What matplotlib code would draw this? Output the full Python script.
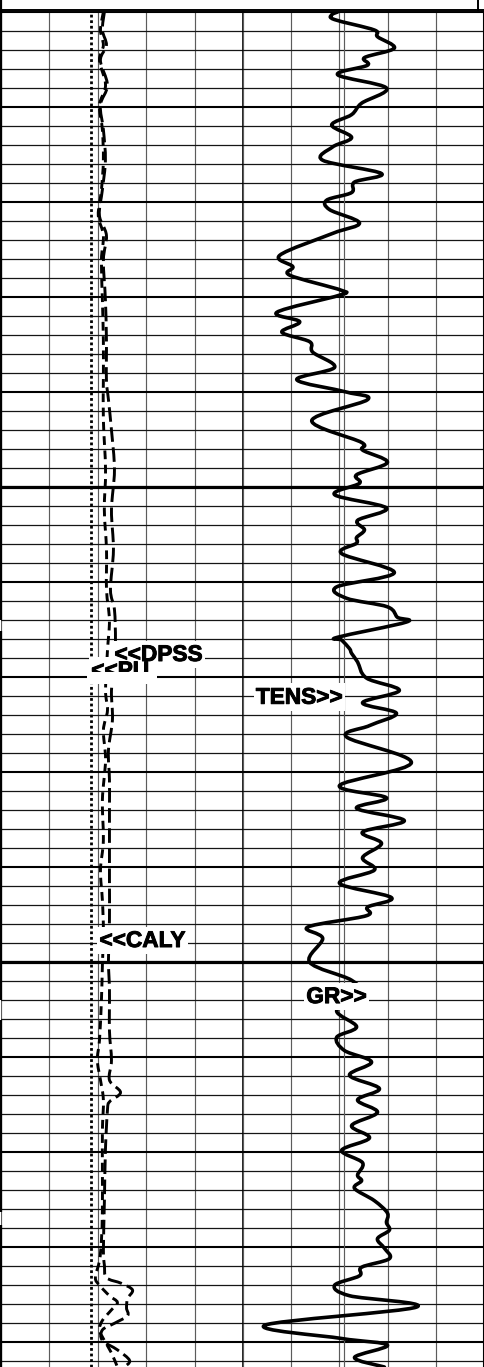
import numpy as np
import matplotlib
matplotlib.use("Agg")
import matplotlib.pyplot as plt
import matplotlib.patheffects as pe
from matplotlib.path import Path
from matplotlib.patches import PathPatch, Rectangle
from matplotlib.lines import Line2D
from matplotlib.ticker import MultipleLocator

plt.rcParams['font.family'] = ['Liberation Sans', 'DejaVu Sans']

# ---------------------------------------------------------------- scales
DEPTH_TOP = 3700.0          # ft
DEPTH_BOTTOM = 3842.6       # ft
CAL_MIN, CAL_MAX = 6.0, 16.0        # caliper, in
POR_LEFT, POR_RIGHT = 0.45, -0.15   # density porosity (sandstone), v/v
GR_MIN, GR_MAX = 0.0, 150.0         # gamma ray, API
BIT_SIZE = 9.73                      # in
GR_REFERENCE = 62.6                  # API

# ---------------------------------------------------------------- track 1
caly_depth = [3700.0, 3701.9, 3703.5, 3705.1, 3707.7, 3709.8, 3712.4, 3715.6,
              3718.7, 3721.4, 3723.5, 3726.1, 3730.3, 3734.5, 3738.7, 3742.9,
              3748.2, 3752.4, 3756.6, 3760.8, 3764.0, 3767.2, 3771.4, 3773.5,
              3775.6, 3778.7, 3782.9, 3787.2, 3790.3, 3793.5, 3796.6, 3800.3,
              3804.0, 3808.2, 3810.3, 3812.4, 3814.5, 3817.7, 3821.9, 3826.1,
              3829.3, 3831.4, 3833.2, 3834.0, 3835.1, 3835.8, 3836.6, 3837.7,
              3838.7, 3839.8, 3841.1, 3842.6]
caly_in = [10.23, 10.11, 10.23, 10.07, 10.32, 10.07, 10.19, 10.23,
           10.15, 10.02, 10.23, 10.15, 10.19, 10.23, 10.23, 10.23,
           10.32, 10.27, 10.36, 10.36, 10.48, 10.40, 10.32, 10.40,
           10.23, 10.32, 10.19, 10.23, 10.11, 10.19, 10.23, 10.19,
           10.15, 10.07, 9.98, 10.11, 10.23, 10.19, 10.19, 10.19,
           10.15, 10.07, 9.90, 10.07, 10.48, 10.81, 10.56, 10.19,
           10.07, 10.27, 10.56, 10.81]

dpss_depth = [3700.0, 3701.9, 3703.5, 3705.1, 3707.7, 3709.8, 3712.4, 3715.6,
              3718.7, 3721.4, 3723.5, 3726.1, 3730.3, 3734.5, 3738.7, 3740.8,
              3744.0, 3748.2, 3752.4, 3756.6, 3760.8, 3762.9, 3766.1, 3768.2,
              3771.4, 3774.5, 3777.7, 3780.8, 3784.0, 3788.2, 3791.4, 3795.6,
              3799.8, 3802.9, 3807.2, 3810.3, 3812.4, 3813.7, 3814.7, 3815.6,
              3819.8, 3825.1, 3830.3, 3831.9, 3833.2, 3833.8, 3834.5, 3835.4,
              3836.4, 3837.2, 3838.0, 3838.7, 3839.8, 3840.8, 3841.9, 3842.6]
dpss_vv = [0.1936, 0.1986, 0.1886, 0.2035, 0.1861, 0.2035, 0.1961, 0.1911,
           0.1986, 0.2060, 0.1886, 0.1961, 0.1911, 0.1886, 0.1886, 0.1836,
           0.1761, 0.1687, 0.1761, 0.1712, 0.1786, 0.1687, 0.1662, 0.1687,
           0.1761, 0.1737, 0.1836, 0.1811, 0.1811, 0.1811, 0.1811, 0.1811,
           0.1836, 0.1811, 0.1811, 0.1761, 0.1811, 0.1537, 0.1811, 0.1861,
           0.1911, 0.1936, 0.1961, 0.1936, 0.1886, 0.1512, 0.1239, 0.1363,
           0.1388, 0.1363, 0.1687, 0.1986, 0.1986, 0.1612, 0.1313, 0.1438]

# ---------------------------------------------------------------- track 2
gr_depth = [3700.0, 3700.3, 3700.8, 3701.9, 3702.6, 3703.8, 3704.8, 3705.6,
            3706.6, 3708.0, 3709.6, 3710.8, 3711.9, 3713.2, 3714.2, 3715.6,
            3717.0, 3717.9, 3719.0, 3719.8, 3720.8, 3722.2, 3723.3, 3725.6,
            3726.8, 3727.7, 3729.3, 3729.8, 3731.6, 3732.6, 3733.7, 3734.7,
            3735.8, 3737.4, 3738.7, 3740.0, 3740.8, 3743.0, 3745.3, 3746.1,
            3747.4, 3748.7, 3749.6, 3750.8, 3752.2, 3753.5, 3754.5, 3755.3,
            3755.9, 3757.0, 3759.0, 3760.5, 3761.7, 3762.6, 3763.7, 3764.2,
            3765.8, 3766.1, 3767.0, 3767.5, 3768.4, 3770.1, 3771.4, 3772.7,
            3773.8, 3775.1, 3776.3, 3779.0, 3781.4, 3782.7, 3783.8, 3785.1,
            3786.3, 3787.5, 3789.0, 3790.3, 3791.7, 3793.2, 3794.2, 3795.1,
            3796.3, 3797.5, 3800.0, 3801.9, 3803.5, 3805.1, 3806.8, 3807.9,
            3809.3, 3810.5, 3811.9, 3813.3, 3814.5, 3815.8, 3817.2, 3818.5,
            3819.8, 3821.1, 3822.4, 3823.0, 3823.8, 3825.1, 3826.4, 3827.4,
            3828.2, 3829.1, 3830.1, 3831.2, 3832.1, 3833.0, 3834.0, 3835.1,
            3836.3, 3838.2, 3839.6, 3840.3, 3841.6, 3842.6]
gr_api = [58.9, 55.2, 57.0, 81.8, 83.7, 94.2, 75.6, 77.5,
          58.9, 89.3, 73.8, 67.6, 55.2, 67.6, 55.8, 49.6,
          86.2, 69.4, 67.6, 52.1, 53.9, 72.5, 55.8, 22.9,
          31.0, 29.1, 61.4, 60.1, 21.1, 35.3, 24.2, 41.5,
          43.4, 57.0, 33.5, 64.5, 77.5, 42.8, 73.8, 74.4,
          89.9, 70.7, 72.5, 57.0, 89.3, 71.3, 75.6, 70.7,
          70.7, 61.4, 94.2, 58.3, 64.5, 89.9, 96.1, 101.7,
          58.9, 61.4, 66.3, 67.6, 71.3, 76.9, 97.3, 74.4,
          95.5, 78.7, 64.5, 104.8, 60.1, 89.3, 70.7, 100.4,
          74.4, 86.2, 74.4, 81.8, 60.1, 92.4, 77.5, 76.9,
          40.3, 49.6, 41.5, 67.6, 73.8, 58.3, 70.7, 58.3,
          63.2, 80.0, 66.3, 84.9, 71.3, 83.7, 67.6, 78.7,
          61.4, 74.4, 71.3, 73.8, 69.4, 81.8, 89.9, 89.3,
          91.1, 83.7, 88.0, 91.1, 73.8, 72.5, 57.0, 66.3,
          107.9, 13.6, 61.4, 89.9, 69.4, 88.0]

# ---------------------------------------------------------------- labels
t1_labels = ["<<PU", "<<DPSS", "<<CALY"]
t1_label_x = [BIT_SIZE, 10.69, 10.07]          # in (caliper scale)
t1_label_depth = [3770.0, 3768.3, 3798.4]
t2_labels = ["TENS>>", "GR>>"]
t2_label_x = [62.0, 77.0]                       # API, right-aligned
t2_label_depth = [3772.8, 3804.3]

# white-out below the half hidden "<<PU" tag
mask_x = (9.57, 12.43)
mask_depth = (3769.5, 3770.6)

# breaks in the outer left border line (ft)
border_breaks = [(3764.0, 3765.1), (3804.0, 3806.1), (3826.3, 3827.7)]

W, H = 485, 1367
fig = plt.figure(figsize=(W / 100, H / 100), dpi=100)
fig.patch.set_facecolor('white')

top_frac = (H - 12) / H
ax1 = fig.add_axes([1 / W, 0, 242 / W, top_frac])
ax2 = fig.add_axes([243 / W, 0, 241 / W, top_frac])


def smooth_path(xs, ys):
    pts = np.column_stack([xs, ys]).astype(float)
    n = len(pts)
    verts = [pts[0]]
    codes = [Path.MOVETO]
    for i in range(n - 1):
        p0 = pts[i - 1] if i > 0 else pts[i]
        p1 = pts[i]
        p2 = pts[i + 1]
        p3 = pts[i + 2] if i + 2 < n else pts[i + 1]
        verts += [p1 + (p2 - p0) / 6.0, p2 - (p3 - p1) / 6.0, p2]
        codes += [Path.CURVE4] * 3
    return Path(verts, codes)


def style_track(ax, xmin, xmax, step):
    ax.set_xlim(xmin, xmax)
    ax.set_ylim(DEPTH_BOTTOM, DEPTH_TOP)
    ax.xaxis.set_major_locator(MultipleLocator(step))
    ax.yaxis.set_major_locator(MultipleLocator(10))
    ax.yaxis.set_minor_locator(MultipleLocator(2))
    ax.grid(axis='x', which='major', color='#5c5c5c', lw=0.85)
    ax.grid(axis='y', which='minor', color='#151515', lw=0.9)
    ax.grid(axis='y', which='major', color='black', lw=1.5)
    for d in np.arange(np.ceil(DEPTH_TOP / 50) * 50 + 50, DEPTH_BOTTOM, 50):
        ax.axhline(d, color='black', lw=2.3, zorder=1.5)
    ax.set_axisbelow(True)
    ax.tick_params(which='both', length=0, labelbottom=False, labelleft=False,
                   labeltop=False, labelright=False)
    ax.spines['bottom'].set_visible(False)
    ax.spines['top'].set_linewidth(1.4)


style_track(ax1, CAL_MIN, CAL_MAX, 2)
style_track(ax2, GR_MIN, GR_MAX, 30)

ax1.spines['left'].set_visible(False)
ax1.spines['right'].set_linewidth(1.9)
ax2.spines['left'].set_visible(False)
ax2.spines['right'].set_linewidth(1.5)

# outer left border with its breaks
edges = [DEPTH_TOP] + [v for b in border_breaks for v in b] + [DEPTH_BOTTOM]
for a, b in zip(edges[0::2], edges[1::2]):
    ax1.plot([0, 0], [a, b], color='black', lw=1.6,
             transform=ax1.get_yaxis_transform(), clip_on=False,
             solid_capstyle='butt', zorder=4)

# track 1 curves
ax1.axvline(BIT_SIZE, color='black', lw=2.0, linestyle=(0, (1, 1)), zorder=3)
ax1.add_patch(PathPatch(smooth_path(caly_in, caly_depth), fill=False,
                        edgecolor='black', lw=2.1, linestyle=(0, (3.0, 1.9)),
                        zorder=3))
ax1b = ax1.twiny()
ax1b.set_xlim(POR_LEFT, POR_RIGHT)
ax1b.set_ylim(DEPTH_BOTTOM, DEPTH_TOP)
ax1b.axis('off')
ax1b.add_patch(PathPatch(smooth_path(dpss_vv, dpss_depth), fill=False,
                         edgecolor='black', lw=2.1, linestyle=(0, (5.0, 1.9)),
                         zorder=3))

label_font = dict(fontsize=16.3, fontweight='bold')
label_stroke = [pe.withStroke(linewidth=0.7, foreground='black')]
label_box = dict(boxstyle='square,pad=0.1', fc='white', ec='none')


def curve_tag(ax, x, d, txt, ha, transform):
    # white backing first, then the lettering on top of every backing
    ax.text(x, d, txt, transform=transform, ha=ha, va='baseline',
            color='none', bbox=label_box, zorder=5, **label_font)
    ax.text(x, d, txt, transform=transform, ha=ha, va='baseline',
            color='black', path_effects=label_stroke, zorder=5.5, **label_font)


for txt, x, d in zip(t1_labels, t1_label_x, t1_label_depth):
    curve_tag(ax1b, x, d, txt, 'left', ax1.transData)
ax1b.add_patch(Rectangle((mask_x[0], mask_depth[0]), mask_x[1] - mask_x[0],
                         mask_depth[1] - mask_depth[0], transform=ax1.transData,
                         fc='white', ec='none', zorder=6))

# track 2 curves
ax2.axvline(GR_REFERENCE, color='#5c5c5c', lw=0.85, zorder=1.2)
ax2.add_patch(PathPatch(smooth_path(gr_api, gr_depth), fill=False,
                        edgecolor='black', lw=2.6, joinstyle='round',
                        capstyle='round', zorder=3))
for txt, x, d in zip(t2_labels, t2_label_x, t2_label_depth):
    curve_tag(ax2, x, d, txt, 'right', ax2.transData)

# header frame above the tracks
fig.add_artist(Line2D([0, 1], [1 - 9.5 / H, 1 - 9.5 / H], color='black', lw=1.4))
fig.add_artist(Line2D([1 / W, 1 / W], [1 - 12 / H, 1], color='black', lw=1.6))
fig.add_artist(Line2D([478.5 / W, 478.5 / W], [1 - 9.5 / H, 1], color='black', lw=1.4))

fig.savefig('out.png', dpi=100, facecolor='white')
